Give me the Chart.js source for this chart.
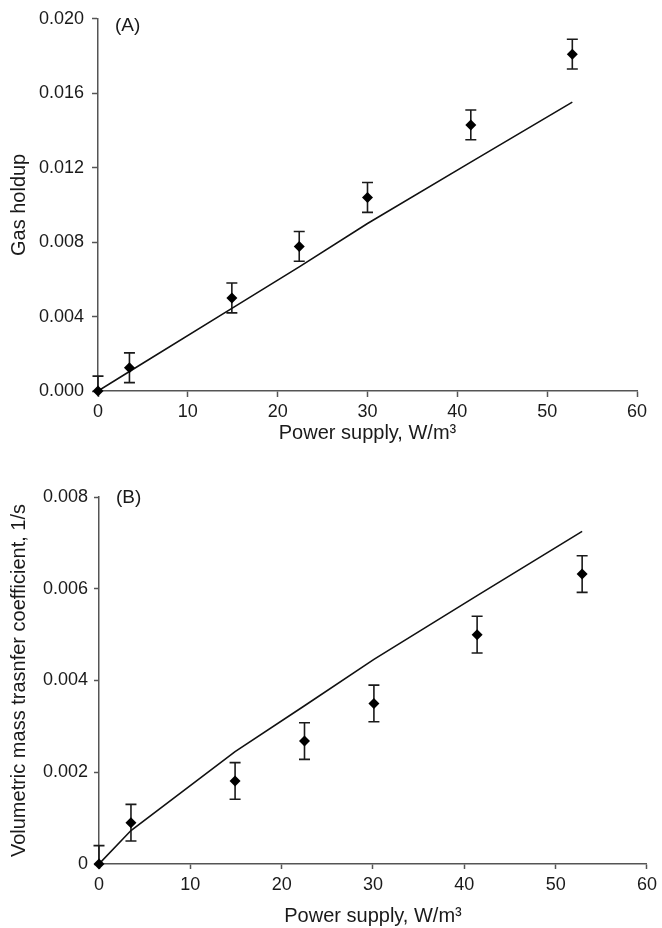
<!DOCTYPE html>
<html>
<head>
<meta charset="utf-8">
<script src="https://cdn.jsdelivr.net/npm/chart.js@4"></script>
<style>
  body { margin: 0; background: #fff; }
  canvas { position: absolute; left: 0; }
  #chartA { top: 0; }
  #chartB { top: 464px; }
</style>
</head>
<body>
<canvas id="chartA" width="662" height="464"></canvas>
<canvas id="chartB" width="662" height="464"></canvas>
<script>
// (A) gas holdup
const powerA = [0, 3.5, 14.9, 22.4, 30.0, 41.5, 52.8]
const gasHoldup = [0, 0.00125, 0.0050, 0.00777, 0.0104, 0.0143, 0.0181]
const gasHoldupErr = [0.0008, 0.0008, 0.0008, 0.0008, 0.0008, 0.0008, 0.0008]
const gasHoldupModel = [0, 0.00105, 0.00444, 0.00667, 0.0090, 0.0123, 0.01552]

// (B) volumetric mass transfer coefficient
const powerB = [0, 3.5, 14.9, 22.5, 30.1, 41.4, 52.9]
const kLa = [0, 0.0009, 0.00181, 0.00268, 0.0035, 0.0050, 0.00632]
const kLaErr = [0.0004, 0.0004, 0.0004, 0.0004, 0.0004, 0.0004, 0.0004]
const kLaModel = [0, 0.00073, 0.00245, 0.00345, 0.00446, 0.00585, 0.00725]

// ticks
const xTicks = [0, 10, 20, 30, 40, 50, 60]
const yTicksA = [0, 0.004, 0.008, 0.012, 0.016, 0.020]
const yLabelsA = ['0.000', '0.004', '0.008', '0.012', '0.016', '0.020']
const yTicksB = [0, 0.002, 0.004, 0.006, 0.008]
const yLabelsB = ['0', '0.002', '0.004', '0.006', '0.008']

const FONT = 'Liberation Sans, Arial, Helvetica, sans-serif'
const axisColor = '#555'
const textColor = '#1a1a1a'

// error bars drawn with the chart's own scales
const errorBars = {
    id: 'errorBars',
    beforeDatasetsDraw(chart) {
        const { ctx, chartArea, scales: { x, y } } = chart
        chart.data.datasets.forEach(ds => {
            if (!ds.errors) return
            ctx.save()
            ctx.beginPath()
            ctx.rect(chartArea.left - 20, chartArea.top - 20, chartArea.right - chartArea.left + 40, chartArea.bottom - chartArea.top + 20)
            ctx.clip()
            ctx.strokeStyle = '#1a1a1a'
            ctx.lineWidth = 1.6
            ds.data.forEach((p, i) => {
                const px = x.getPixelForValue(p.x)
                const top = y.getPixelForValue(p.y + ds.errors[i])
                const bot = y.getPixelForValue(p.y - ds.errors[i])
                ctx.beginPath()
                ctx.moveTo(px, top); ctx.lineTo(px, bot)
                ctx.moveTo(px - 5.5, top); ctx.lineTo(px + 5.5, top)
                ctx.moveTo(px - 5.5, bot); ctx.lineTo(px + 5.5, bot)
                ctx.stroke()
            })
            ctx.restore()
        })
    }
}

// panel letter
const panelLabel = {
    id: 'panelLabel',
    afterDraw(chart, args, opts) {
        const { ctx, chartArea } = chart
        ctx.save()
        ctx.font = '19px ' + FONT
        ctx.fillStyle = textColor
        ctx.textBaseline = 'middle'
        ctx.fillText(opts.text, chartArea.left + 17, chartArea.top + opts.dy)
        ctx.restore()
    }
}

function makeChart(id, xs, ys, errs, model, yTicks, yLabels, opt) {
    const points = xs.map((v, i) => ({ x: v, y: ys[i] }))
    const line = xs.map((v, i) => ({ x: v, y: model[i] }))

    return new Chart(document.getElementById(id), {
        type: 'scatter',
        data: {
            datasets: [{
                type: 'line',
                data: line,
                borderColor: '#111',
                borderWidth: 1.6,
                pointRadius: 0,
                tension: 0,
                order: 2
            }, {
                data: points,
                errors: errs,
                pointStyle: 'rectRot',
                pointRadius: 5.5,
                backgroundColor: '#000',
                borderColor: '#000',
                borderWidth: 0,
                clip: false,
                order: 1
            }]
        },
        options: {
            responsive: false,
            animation: false,
            layout: { padding: opt.padding },
            plugins: {
                legend: { display: false },
                tooltip: { enabled: false },
                panelLabel: { text: opt.label, dy: opt.labelDy }
            },
            scales: {
                x: {
                    type: 'linear',
                    min: 0, max: 60,
                    afterBuildTicks: s => { s.ticks = xTicks.map(v => ({ value: v })) },
                    afterFit: s => { s.height = opt.xHeight },
                    border: { display: true, color: axisColor, width: 1.5 },
                    grid: { drawOnChartArea: false, tickLength: opt.tickX, tickColor: axisColor, tickWidth: 1.5 },
                    ticks: { color: textColor, font: { family: FONT, size: 18 }, padding: opt.xPad },
                    title: {
                        display: true,
                        text: 'Power supply, W/m³',
                        color: textColor,
                        font: { family: FONT, size: 20 },
                        padding: { top: 0, bottom: opt.xTitlePad }
                    }
                },
                y: {
                    type: 'linear',
                    min: 0, max: yTicks[yTicks.length - 1],
                    afterBuildTicks: s => { s.ticks = yTicks.map(v => ({ value: v })) },
                    afterFit: s => { s.width = opt.yWidth },
                    border: { display: true, color: axisColor, width: 1.5 },
                    grid: { drawOnChartArea: false, tickLength: opt.tickY, tickColor: axisColor, tickWidth: 1.5 },
                    ticks: {
                        color: textColor,
                        font: { family: FONT, size: 18 },
                        padding: opt.yPad,
                        callback: (v, i) => yLabels[i]
                    },
                    title: {
                        display: true,
                        text: opt.yTitle,
                        color: textColor,
                        font: { family: FONT, size: 20 },
                        padding: { top: 7, bottom: 0 }
                    }
                }
            }
        },
        plugins: [errorBars, panelLabel]
    })
}

makeChart('chartA', powerA, gasHoldup, gasHoldupErr, gasHoldupModel, yTicksA, yLabelsA, {
    padding: { top: 17, right: 25, bottom: 0, left: 0 },
    xHeight: 73, yWidth: 98, tickX: 6, tickY: 6, xPad: 4, yPad: 8, xTitlePad: 19,
    yTitle: 'Gas holdup', label: '(A)', labelDy: 7
})

makeChart('chartB', powerB, kLa, kLaErr, kLaModel, yTicksB, yLabelsB, {
    padding: { top: 33, right: 12, bottom: 0, left: 0 },
    xHeight: 64, yWidth: 99, tickX: 5, tickY: 5, xPad: 5, yPad: 6, xTitlePad: 0,
    yTitle: 'Volumetric mass trasnfer coefficient, 1/s', label: '(B)', labelDy: 1
})
</script>
</body>
</html>
